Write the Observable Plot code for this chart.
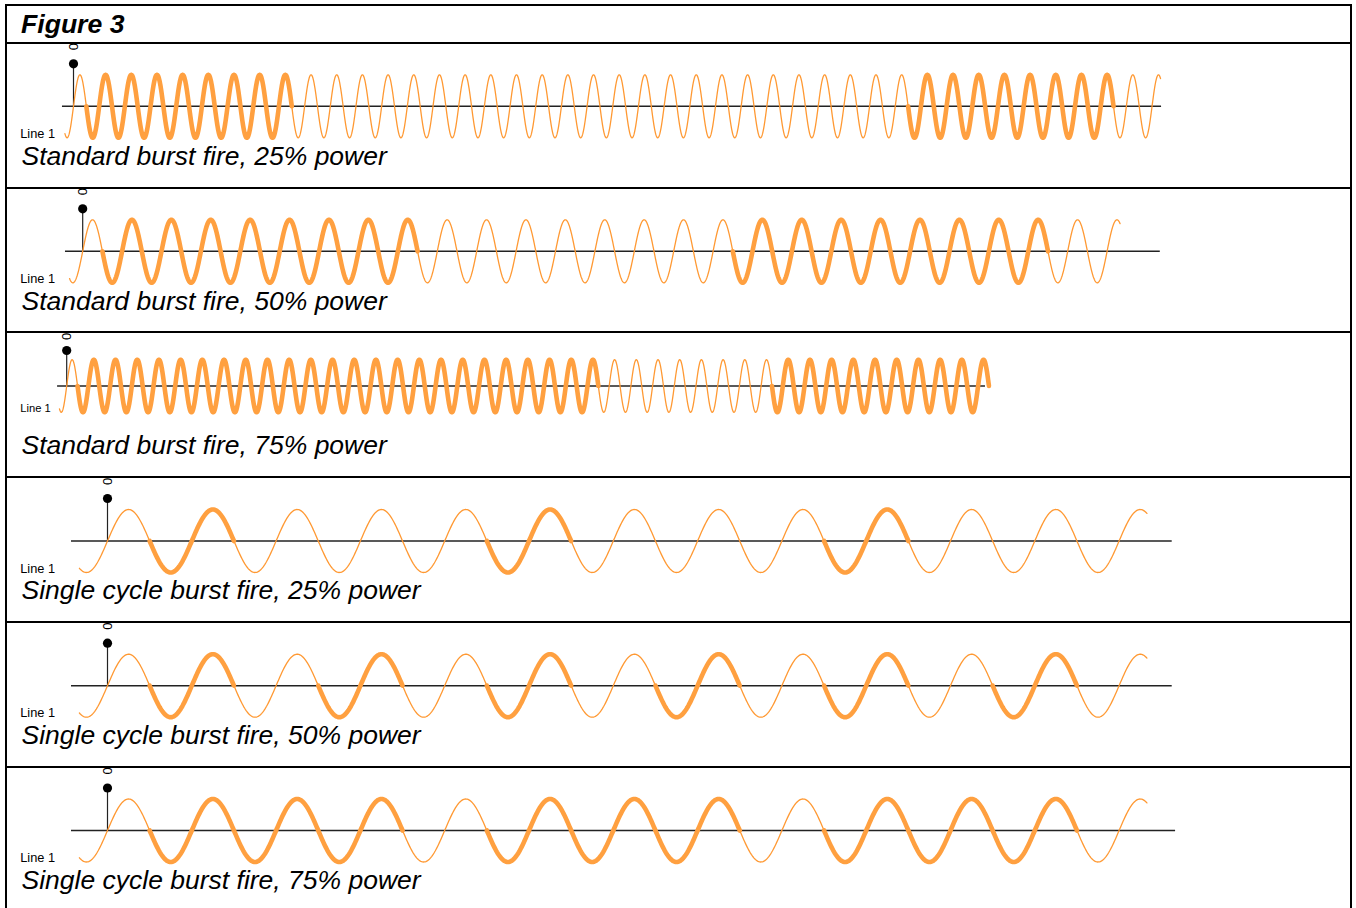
<!DOCTYPE html>
<html><head><meta charset="utf-8">
<script src="https://cdn.jsdelivr.net/npm/d3@7"></script>
<script src="https://cdn.jsdelivr.net/npm/@observablehq/plot@0.6"></script>
<style>
html,body{margin:0;padding:0;overflow:hidden;background:#fff;width:1356px;height:908px;}
#root{position:relative;width:1356px;height:908px;overflow:hidden;font-family:"Liberation Sans",Arial,sans-serif;}
.panel{position:absolute;left:0;width:1356px;}
.hline{position:absolute;left:5px;width:1347px;height:2px;background:#000;}
.vline{position:absolute;top:4px;width:2px;height:920px;background:#000;}
#title{position:absolute;left:21px;top:11px;font-size:26.6px;line-height:26px;font-weight:bold;font-style:italic;white-space:nowrap;}
</style></head><body><div id="root"><div id="title"></div></div>
<script>
// ---- data ----
const figureTitle = "Figure 3";
const captions = [
  "Standard burst fire, 25% power",
  "Standard burst fire, 50% power",
  "Standard burst fire, 75% power",
  "Single cycle burst fire, 25% power",
  "Single cycle burst fire, 50% power",
  "Single cycle burst fire, 75% power"
];
const lineLabel = "Line 1";
const zeroTick = 0;
// power on (1) / off (0) for each mains cycle shown, per panel
const panel1On = [0, 1,1,1,1,1,1,1,1, 0,0,0,0,0,0,0,0,0,0,0,0,0,0,0,0,0,0,0,0,0,0,0,0, 1,1,1,1,1,1,1,1, 0,0];
const panel2On = [0, 1,1,1,1,1,1,1,1, 0,0,0,0,0,0,0,0, 1,1,1,1,1,1,1,1, 0,0];
const panel3On = [0, 1,1,1,1,1,1,1,1,1,1,1,1,1,1,1,1,1,1,1,1,1,1,1,1, 0,0,0,0,0,0,0,0, 1,1,1,1,1,1,1,1,1,1];
const panel4On = [0,1,0,0,0,1,0,0,0,1,0,0,0];
const panel5On = [0,1,0,1,0,1,0,1,0,1,0,1,0];
const panel6On = [0,1,1,1,0,1,1,1,0,1,1,1,0];
const patterns = [panel1On, panel2On, panel3On, panel4On, panel5On, panel6On];
// trace start / end time (in mains cycles)
const traceStart = [-0.333, -0.333, -0.333, -0.333, -0.333, -0.333];
const traceEnd = [42.33, 26.33, 42.5, 12.33, 12.33, 12.33];
// axis extent (in mains cycles)
const axisStart = [-0.43, -0.437, -0.42, -0.427, -0.427, -0.427];
const axisEnd = [42.37, 27.35, 42.34, 12.63, 12.63, 12.67];

// ---- layout (pixels) ----
const layout = [
  {top: 42,  x0: 73,   period: 25.68, zero: 63.8, amp: 31.5, labelSize: 12.8},
  {top: 187, x0: 82.2, period: 39.4,  zero: 63.8, amp: 31.5, labelSize: 12.8},
  {top: 331, x0: 66.2, period: 21.7,  zero: 54.5, amp: 26.3, labelSize: 11.2},
  {top: 476, x0: 107,  period: 84.3,  zero: 64.5, amp: 31.5, labelSize: 12.8},
  {top: 621, x0: 107,  period: 84.3,  zero: 64.2, amp: 31.5, labelSize: 12.8},
  {top: 766, x0: 107,  period: 84.3,  zero: 64,   amp: 31.5, labelSize: 12.8}
];
const markerLevel = 1.35, tickLevel = 1.89;

const root = document.getElementById("root");
document.getElementById("title").textContent = figureTitle;

patterns.forEach((on, k) => {
  const L = layout[k];
  const t0 = traceStart[k], t1 = traceEnd[k];
  const step = 0.01;
  const wave = [];
  for (let t = t0; t <= t1 + 1e-9; t += step) wave.push({t, v: Math.sin(2 * Math.PI * t)});
  if (wave[wave.length - 1].t < t1) wave.push({t: t1, v: Math.sin(2 * Math.PI * t1)});
  // thick segments: each "on" cycle i spans t in [i-0.5, i+0.5]
  const thick = [];
  let run = -1, prev = false;
  on.forEach((s, i) => {
    if (s) {
      if (!prev) run++;
      const a = Math.max(i - 0.5, t0), b = Math.min(i + 0.5, t1);
      for (let t = a; t <= b + 1e-9; t += step) thick.push({t, v: Math.sin(2 * Math.PI * t), run});
      thick.push({t: b, v: Math.sin(2 * Math.PI * b), run});
    }
    prev = !!s;
  });
  const a0 = axisStart[k], a1 = axisEnd[k];
  const chart = Plot.plot({
    width: 1356, height: 145, margin: 0,
    style: {fontFamily: "'Liberation Sans', Arial, sans-serif", overflow: "visible", color: "#000"},
    x: {domain: [a0, a1], range: [L.x0 + a0 * L.period, L.x0 + a1 * L.period], axis: null},
    y: {domain: [-1, 1], range: [L.zero + L.amp, L.zero - L.amp], axis: null},
    marks: [
      Plot.ruleY([0], {x1: () => a0, x2: () => a1, stroke: "#222", strokeWidth: 1.4}),
      Plot.ruleX([zeroTick], {x: d => d, y1: () => 0, y2: () => markerLevel, stroke: "#222", strokeWidth: 1.2}),
      Plot.line(wave, {x: "t", y: "v", stroke: "#FF9933", strokeWidth: 1.3}),
      Plot.line(thick, {x: "t", y: "v", z: "run", stroke: "#FFA040", strokeWidth: 4.6, strokeLinejoin: "round"}),
      Plot.dot([zeroTick], {x: d => d, y: () => markerLevel, r: 4.6, fill: "#000", stroke: "none"}),
      Plot.text([zeroTick], {x: d => d, y: () => tickLevel, text: d => String(d), rotate: -90, fontSize: 13, fill: "#000"}),
      Plot.text([lineLabel], {y: () => -1, frameAnchor: "left", dx: 19.7, text: d => d, textAnchor: "start", lineAnchor: "bottom", fontSize: L.labelSize, fill: "#000"}),
      Plot.text([captions[k]], {frameAnchor: "top-left", dx: 21, dy: 122.5, text: d => d, textAnchor: "start", lineAnchor: "bottom", fontSize: 26.5, fontStyle: "italic", fill: "#000"})
    ]
  });
  const div = document.createElement("div");
  div.className = "panel";
  div.style.top = L.top + "px";
  div.appendChild(chart);
  root.appendChild(div);
});

// borders drawn on top
function addLine(cls, styles) {
  const d = document.createElement("div");
  d.className = cls;
  Object.assign(d.style, styles);
  root.appendChild(d);
}
addLine("hline", {top: "4px"});
layout.forEach(L => addLine("hline", {top: L.top + "px"}));
addLine("vline", {left: "5px"});
addLine("vline", {left: "1350px"});
</script>
</body></html>
